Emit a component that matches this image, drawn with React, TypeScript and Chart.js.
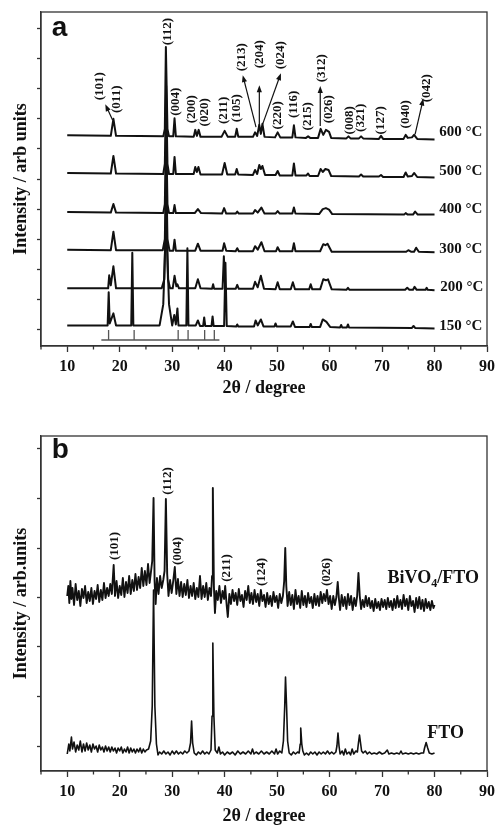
import React, { useEffect, useRef } from 'react';
import { Chart, registerables } from 'chart.js';
Chart.register(...registerables);

const SERIF = '"Liberation Serif", "Times New Roman", serif';
const SANS = '"Liberation Sans", Arial, sans-serif';
const INK = '#111';
const AXIS = '#333';

// ---------- shared x axis ----------
const X_TICKS = [10, 20, 30, 40, 50, 60, 70, 80, 90];
const X_MINOR = [5, 15, 25, 35, 45, 55, 65, 75, 85];

// ---------- panel a : [2theta, intensity] ----------
const A_Y_TICKS = [0, 30, 60, 90, 120, 150, 180, 210, 240, 270, 300];

const T600 = [
  [10, 193.5], [18.3, 193], [18.8, 210], [19.3, 193], [28.3, 192.5], [28.6, 200], [28.8, 281.5], [29.1, 200], [29.4, 192.5],
  [30.2, 192.5], [30.45, 210.5], [30.7, 192.5], [34.1, 192], [34.4, 199], [34.7, 193], [35.05, 199], [35.4, 192],
  [39.4, 192], [40.0, 198], [40.6, 192], [42.0, 192], [42.3, 200], [42.6, 192], [45.4, 192], [45.8, 196.5], [46.2, 193],
  [46.6, 204], [46.9, 195], [47.2, 205], [47.6, 192], [49.6, 191.5], [50.1, 196.5], [50.6, 191.5], [52.9, 191.5],
  [53.2, 203.5], [53.5, 191.5], [55.5, 191], [55.9, 192.5], [56.3, 191], [57.8, 191], [58.3, 200], [58.8, 194],
  [59.3, 199], [59.9, 197], [60.3, 191], [63.2, 190.5], [63.6, 192.5], [64.0, 190.5], [65.6, 190.5], [66.0, 192.5],
  [66.4, 190.5], [69.4, 190], [69.8, 193], [70.2, 190], [74.1, 190], [74.5, 194], [74.9, 191], [75.7, 191.5],
  [76.1, 194], [76.7, 190], [80, 189.5],
];
const T500 = [
  [10, 156], [18.3, 155.5], [18.8, 173], [19.3, 155.5], [28.3, 155], [28.6, 165], [28.85, 243], [29.1, 165], [29.4, 155],
  [30.2, 155], [30.45, 172], [30.7, 155], [34.1, 155], [34.4, 162], [34.7, 157], [35.0, 162], [35.4, 154.5],
  [39.5, 154.5], [40.0, 166], [40.5, 154.5], [42.0, 154.5], [42.3, 160], [42.6, 154.5], [45.4, 154], [45.8, 159],
  [46.2, 155], [46.6, 164], [46.9, 160], [47.2, 163], [47.7, 154], [49.7, 154], [50.1, 158], [50.5, 153.5],
  [52.9, 153.5], [53.2, 165.5], [53.5, 153.5], [55.6, 153.5], [55.9, 155.5], [56.2, 153], [57.8, 153], [58.3, 160],
  [58.7, 157], [59.2, 160], [59.8, 159], [60.3, 153], [65.6, 152.5], [66.0, 154.5], [66.4, 152.5], [69.4, 152.5],
  [69.8, 154], [70.2, 152], [74.1, 152], [74.5, 156.5], [74.9, 152.5], [75.7, 153], [76.1, 156], [76.7, 152], [80, 151.5],
];
const T400 = [
  [10, 117], [18.3, 116.5], [18.8, 125], [19.3, 116.5], [28.3, 116], [28.6, 125], [28.85, 205], [29.1, 125], [29.4, 116],
  [30.2, 116], [30.45, 124], [30.7, 116], [34.3, 116], [34.9, 120], [35.5, 116], [39.5, 115.5], [39.9, 121],
  [40.3, 115.5], [42.1, 115.5], [42.4, 117.5], [42.7, 115.5], [45.4, 115.5], [45.8, 119], [46.3, 116.5], [47.0, 121.5],
  [47.6, 115.5], [49.7, 115.5], [50.1, 118], [50.5, 115.5], [52.9, 115.5], [53.2, 121.5], [53.5, 115.5], [58.0, 115],
  [58.7, 120], [59.3, 121], [59.9, 119.5], [60.5, 115], [74.2, 114.5], [74.5, 116], [74.9, 114.5], [75.9, 114.5],
  [76.3, 117.5], [76.8, 114.5], [80, 114.5],
];
const T300 = [
  [10, 79.5], [18.3, 79], [18.8, 97.5], [19.3, 79], [28.2, 79], [28.6, 90], [28.85, 168], [29.1, 90], [29.5, 78.5],
  [30.2, 78.5], [30.45, 89.5], [30.7, 78.5], [34.4, 78.5], [34.9, 85.5], [35.4, 78.5], [39.6, 78.5], [39.9, 86],
  [40.3, 78.5], [42.1, 78], [42.4, 81], [42.7, 78], [45.4, 78], [45.8, 83], [46.3, 79.5], [47.0, 87], [47.6, 78],
  [49.8, 78], [50.1, 82], [50.5, 78], [52.9, 78], [53.2, 86], [53.5, 78], [58.2, 78], [58.8, 85], [59.2, 84],
  [59.6, 85.5], [60.4, 77.5], [74.6, 77.5], [75.0, 79], [75.5, 77.5], [76.1, 77.5], [76.5, 81.5], [77.0, 77.5], [80, 77],
];
const T200 = [
  [10, 41], [17.8, 41], [18.0, 54], [18.3, 44], [18.8, 63], [19.3, 41], [28.0, 41], [28.5, 50], [28.85, 130], [29.2, 50],
  [29.6, 41], [30.1, 41], [30.45, 53.5], [30.8, 43], [31.0, 45], [31.3, 41], [34.4, 41], [34.9, 50], [35.4, 41],
  [37.6, 40.5], [37.8, 45], [38.0, 40.5], [39.6, 40.5], [39.85, 73], [40.1, 40.5], [42.1, 40.5], [42.4, 44.5],
  [42.7, 40.5], [45.4, 40.5], [45.8, 47.5], [46.3, 42], [46.9, 53.5], [47.5, 40.5], [49.7, 40], [50.1, 47], [50.5, 40],
  [52.6, 40], [53.0, 47], [53.4, 40], [56.1, 40], [56.4, 45], [56.7, 40], [58.2, 40], [58.8, 50], [59.3, 49],
  [59.7, 50], [60.4, 40], [63.2, 39.5], [63.5, 41.5], [63.8, 39.5], [74.4, 39.5], [74.8, 41.5], [75.2, 39.5],
  [75.9, 39.5], [76.2, 42.5], [76.6, 39.5], [78.3, 39.5], [78.5, 41.5], [78.7, 39.5], [80, 39],
];
const T150 = [
  [10, 4], [17.7, 4], [17.9, 37], [18.1, 6], [18.8, 16], [19.3, 4], [22.2, 4], [22.4, 76.5], [22.6, 4], [27.6, 4],
  [28.3, 25], [28.85, 110], [29.4, 25], [30.0, 4], [30.4, 14.5], [30.7, 5], [31.0, 21], [31.2, 4], [32.7, 4],
  [32.9, 81], [33.1, 4], [34.5, 4], [34.9, 9], [35.3, 3.5], [35.9, 3.5], [36.1, 12], [36.3, 3.5], [37.5, 3.5],
  [37.7, 13], [37.9, 3.5], [39.9, 3.5], [40.15, 66.5], [40.4, 3.5], [42.2, 3], [42.4, 5], [42.6, 3], [45.6, 3],
  [45.9, 9], [46.3, 4], [46.9, 10], [47.4, 3], [49.5, 3], [49.7, 6], [49.9, 3], [52.6, 3], [53.0, 8], [53.4, 2.5],
  [56.2, 2.5], [56.4, 5.5], [56.6, 2.5], [58.2, 2.5], [58.7, 10], [59.4, 7.5], [60.1, 2.5], [62.0, 2], [62.2, 4.5],
  [62.4, 2], [63.3, 2], [63.5, 5], [63.7, 2], [75.7, 1.5], [76.0, 3.5], [76.3, 1.5], [80, 1],
];
const A_TRACES = [T600, T500, T400, T300, T200, T150];

// reference stick pattern
const STICK_POS = [17.88, 22.75, 31.14, 33.03, 36.19, 38.03];
const STICK_BASE = -10.5;
const STICK_TOP = -0.5;
const STICK_RANGE = [16.5, 39.0];

const A_TEMP_TEXT = ['600 °C', '500 °C', '400 °C', '300 °C', '200 °C', '150 °C'];
const A_TEMP_POS = [[80.9, 196.5], [80.9, 157.5], [80.9, 119.5], [80.9, 80.5], [81.1, 42.5], [80.9, 3.5]];

const A_HKL: [string, number, number][] = [
  ['(101)', 16.25, 242.5], ['(011)', 19.39, 229.5], ['(112)', 29.05, 297], ['(004)', 30.64, 227],
  ['(200)', 33.79, 219.5], ['(020)', 36.14, 216.5], ['(211)', 39.79, 218.5], ['(105)', 42.31, 220.5],
  ['(213)', 43.26, 271.5], ['(204)', 46.61, 274.5], ['(024)', 50.72, 273.5], ['(220)', 50.08, 213.5],
  ['(116)', 53.24, 224.5], ['(215)', 55.89, 212.5], ['(312)', 58.41, 260.5], ['(026)', 59.87, 219.5],
  ['(008)', 63.79, 208.5], ['(321)', 65.98, 211], ['(127)', 69.77, 208.5], ['(040)', 74.51, 214.5],
  ['(042)', 78.43, 240.5],
];
// tail (x,y) -> head (x,y)
const A_ARROWS = [
  [18.64, 208.8, 17.25, 224.5],
  [45.98, 201.8, 43.45, 253.5],
  [46.61, 202.5, 46.61, 243.5],
  [47.23, 204.5, 50.72, 255.5],
  [58.22, 202.8, 58.22, 242.8],
  [76.29, 194.5, 77.86, 230.2],
];

// ---------- panel b ----------
const B_Y_TICKS = [0, 49.5, 99, 148.5, 198, 247.5, 297];

const BIVO4_FTO = [
  [10.0, 150], [10.2, 160], [10.4, 143], [10.6, 165], [10.8, 147], [11.0, 158], [11.3, 141], [11.6, 162], [11.9, 146],
  [12.2, 155], [12.5, 140], [12.8, 157], [13.1, 148], [13.4, 160], [13.7, 143], [14.0, 154], [14.3, 145], [14.6, 158],
  [14.9, 142], [15.2, 155], [15.5, 147], [15.8, 161], [16.1, 144], [16.4, 156], [16.7, 146], [17.0, 163], [17.3, 148],
  [17.6, 158], [17.9, 150], [18.2, 162], [18.5, 152], [18.85, 181], [19.1, 150], [19.4, 165], [19.7, 148], [20.0, 160],
  [20.3, 151], [20.6, 168], [20.9, 149], [21.2, 164], [21.5, 153], [21.8, 170], [22.1, 152], [22.4, 166], [22.7, 155],
  [23.0, 172], [23.3, 156], [23.6, 169], [23.9, 158], [24.2, 178], [24.5, 160], [24.8, 175], [25.1, 161], [25.4, 182],
  [25.7, 163], [26.0, 176], [26.2, 185], [26.45, 248], [26.65, 165], [26.85, 142], [27.1, 168], [27.4, 152],
  [27.7, 170], [28.0, 158], [28.3, 166], [28.55, 175], [28.8, 247], [29.05, 172], [29.3, 150], [29.6, 166],
  [29.9, 153], [30.2, 165], [30.5, 179], [30.8, 152], [31.1, 167], [31.4, 150], [31.7, 164], [32.0, 149], [32.3, 162],
  [32.6, 151], [32.9, 166], [33.2, 148], [33.5, 160], [33.8, 150], [34.1, 163], [34.4, 147], [34.7, 158], [35.0, 149],
  [35.3, 170], [35.6, 147], [35.9, 160], [36.2, 149], [36.5, 163], [36.8, 146], [37.1, 158], [37.4, 150], [37.6, 170],
  [37.75, 258], [37.95, 160], [38.15, 133], [38.4, 155], [38.7, 146], [39.0, 160], [39.3, 143], [39.6, 155],
  [39.9, 147], [40.1, 160], [40.4, 140], [40.6, 129], [40.9, 152], [41.2, 142], [41.5, 156], [41.8, 145], [42.1, 153],
  [42.4, 141], [42.7, 157], [43.0, 145], [43.3, 151], [43.6, 139], [43.9, 155], [44.2, 146], [44.5, 160], [44.8, 143],
  [45.1, 153], [45.4, 142], [45.7, 156], [46.0, 144], [46.3, 152], [46.6, 140], [46.9, 156], [47.2, 145], [47.5, 151],
  [47.8, 139], [48.1, 153], [48.4, 142], [48.7, 150], [49.0, 140], [49.3, 154], [49.6, 144], [49.9, 150], [50.2, 138],
  [50.5, 152], [50.8, 143], [51.1, 150], [51.35, 165], [51.55, 198], [51.75, 160], [52.0, 140], [52.3, 154],
  [52.6, 141], [52.9, 151], [53.2, 137], [53.5, 156], [53.8, 142], [54.1, 150], [54.4, 138], [54.7, 155], [55.0, 141],
  [55.3, 150], [55.6, 139], [55.9, 153], [56.2, 143], [56.5, 149], [56.8, 138], [57.1, 152], [57.4, 141], [57.7, 150],
  [58.0, 140], [58.3, 154], [58.6, 143], [58.9, 152], [59.2, 145], [59.5, 156], [59.8, 142], [60.1, 150], [60.4, 137],
  [60.7, 150], [61.0, 141], [61.3, 149], [61.55, 164], [61.8, 146], [62.0, 136], [62.3, 151], [62.6, 140], [62.9, 149],
  [63.2, 137], [63.5, 152], [63.8, 141], [64.1, 150], [64.4, 136], [64.7, 148], [65.0, 140], [65.25, 150], [65.5, 173],
  [65.75, 150], [66.0, 137], [66.3, 146], [66.6, 139], [66.9, 150], [67.2, 140], [67.5, 148], [67.8, 138], [68.1, 145],
  [68.4, 135], [68.7, 147], [69.0, 138], [69.3, 144], [69.6, 136], [69.9, 147], [70.2, 139], [70.5, 146], [70.8, 137],
  [71.1, 148], [71.4, 139], [71.7, 145], [72.0, 136], [72.3, 147], [72.6, 138], [72.9, 150], [73.2, 139], [73.5, 146],
  [73.8, 137], [74.1, 151], [74.4, 140], [74.7, 147], [75.0, 136], [75.3, 150], [75.6, 140], [75.9, 145], [76.2, 134],
  [76.5, 148], [76.8, 138], [77.1, 149], [77.4, 137], [77.7, 146], [78.0, 135], [78.3, 147], [78.6, 138], [78.9, 144],
  [79.2, 136], [79.5, 145], [79.8, 138], [80.0, 141],
];
const FTO = [
  [10.0, -8], [10.3, 2], [10.5, -5], [10.8, 9], [11.0, -3], [11.3, 4], [11.6, -6], [11.9, 1], [12.2, -4], [12.5, 5],
  [12.8, -6], [13.1, 2], [13.4, -5], [13.7, 3], [14.0, -4], [14.3, 1], [14.6, -6], [14.9, 2], [15.2, -3], [15.5, 0],
  [15.8, -6], [16.1, 1], [16.4, -4], [16.7, -1], [17.0, -6], [17.3, 0], [17.6, -5], [17.9, -1], [18.2, -6], [18.5, -1],
  [18.8, -5], [19.1, -2], [19.4, -7], [19.7, -2], [20.0, -5], [20.3, -1], [20.6, -7], [20.9, -3], [21.2, -6],
  [21.5, -1], [21.8, -7], [22.1, -2], [22.4, -6], [22.7, -3], [23.0, -7], [23.3, -3], [23.6, -6], [23.9, -2],
  [24.2, -7], [24.5, -3], [24.8, -6], [25.1, -4], [25.5, -3], [25.9, 5], [26.2, 40], [26.45, 156], [26.7, 40],
  [27.0, 2], [27.3, -9], [27.6, -6], [28.0, -8], [28.4, -5], [28.8, -8], [29.2, -6], [29.6, -9], [30.0, -5],
  [30.4, -8], [30.8, -5], [31.2, -8], [31.6, -6], [32.0, -8], [32.4, -5], [32.8, -7], [33.2, -5], [33.5, 3],
  [33.7, 25], [33.9, 3], [34.2, -7], [34.6, -9], [35.0, -6], [35.4, -8], [35.8, -5], [36.2, -8], [36.6, -6],
  [37.0, -8], [37.4, -4], [37.6, 30], [37.75, 103], [37.95, 30], [38.2, -4], [38.6, -7], [38.9, -1], [39.2, -8],
  [39.6, -6], [40.0, -9], [40.5, -6], [41.0, -8], [41.5, -6], [42.0, -9], [42.5, -5], [43.0, -8], [43.5, -6],
  [44.0, -8], [44.5, -5], [45.0, -8], [45.3, -3], [45.6, -8], [46.0, -6], [46.5, -8], [47.0, -5], [47.5, -8],
  [48.0, -6], [48.5, -8], [49.0, -5], [49.5, -8], [49.8, -3], [50.1, -8], [50.5, -5], [50.9, -7], [51.2, 5],
  [51.45, 40], [51.6, 69], [51.8, 40], [52.0, 5], [52.3, -7], [52.7, -9], [53.1, -6], [53.5, -8], [53.9, -6],
  [54.2, -7], [54.4, 2], [54.5, 18], [54.7, 2], [54.9, -5], [55.2, -9], [55.6, -7], [56.0, -9], [56.4, -6],
  [56.8, -8], [57.2, -6], [57.6, -9], [58.0, -6], [58.4, -8], [58.8, -6], [59.2, -8], [59.6, -5], [60.0, -8],
  [60.4, -6], [60.8, -8], [61.2, -6], [61.4, 0], [61.6, 13], [61.8, 0], [62.0, -8], [62.4, -5], [62.7, -9],
  [63.0, -3], [63.3, -8], [63.7, -6], [64.0, -9], [64.3, -3], [64.6, -8], [65.0, -5], [65.3, -6], [65.5, 3],
  [65.7, 11], [65.9, 3], [66.1, -5], [66.4, -7], [66.8, -5], [67.2, -8], [67.6, -6], [68.0, -8], [68.5, -7],
  [69.0, -8], [69.5, -6], [70.0, -8], [70.5, -7], [71.0, -4], [71.3, -8], [71.8, -7], [72.3, -8], [72.8, -7],
  [73.3, -8], [73.6, -5], [73.9, -8], [74.5, -7], [75.0, -8], [75.5, -7], [76.0, -8], [76.5, -7], [77.0, -8],
  [77.5, -7], [77.9, -7], [78.1, -2], [78.4, 3.5], [78.7, -2], [79.0, -7], [79.5, -8], [80.0, -7],
];

const B_HKL: [string, number, number][] = [
  ['(101)', 18.96, 200], ['(112)', 29.05, 265], ['(004)', 30.95, 195],
  ['(211)', 40.3, 178], ['(124)', 47.05, 174], ['(026)', 59.36, 174],
];
const B_SAMPLE_POS = [[71.05, 168], [78.62, 13]];

// ---------- helpers ----------
const toXY = (arr: number[][]) => arr.map(([x, y]) => ({ x, y }));

function stickData() {
  const pts: { x: number; y: number | null }[] = [
    { x: STICK_RANGE[0], y: STICK_BASE }, { x: STICK_RANGE[1], y: STICK_BASE }, { x: STICK_RANGE[1], y: null },
  ];
  for (const p of STICK_POS) {
    pts.push({ x: p, y: STICK_BASE }, { x: p, y: STICK_TOP }, { x: p, y: null });
  }
  return pts;
}

function drawArrow(ctx: CanvasRenderingContext2D, x1: number, y1: number, x2: number, y2: number) {
  const ang = Math.atan2(y2 - y1, x2 - x1);
  const len = 7, hw = 2.6;
  ctx.beginPath();
  ctx.moveTo(x1, y1);
  ctx.lineTo(x2 - Math.cos(ang) * len * 0.8, y2 - Math.sin(ang) * len * 0.8);
  ctx.stroke();
  ctx.beginPath();
  ctx.moveTo(x2, y2);
  ctx.lineTo(x2 - Math.cos(ang) * len - Math.sin(ang) * hw, y2 - Math.sin(ang) * len + Math.cos(ang) * hw);
  ctx.lineTo(x2 - Math.cos(ang) * len + Math.sin(ang) * hw, y2 - Math.sin(ang) * len - Math.cos(ang) * hw);
  ctx.closePath();
  ctx.fill();
}

function decoPlugin(panel: 'a' | 'b') {
  return {
    id: 'deco' + panel,
    afterDatasetsDraw(chart: any) {
      const { ctx, chartArea: ca } = chart;
      const xs = chart.scales.x, ys = chart.scales.y;
      const px = (v: number) => xs.getPixelForValue(v);
      const py = (v: number) => ys.getPixelForValue(v);
      ctx.save();
      // frame
      ctx.strokeStyle = AXIS;
      ctx.lineWidth = 1.3;
      ctx.strokeRect(ca.left, ca.top, ca.right - ca.left, ca.bottom - ca.top);
      // minor x ticks
      ctx.beginPath();
      for (const v of X_MINOR) {
        const x = px(v);
        ctx.moveTo(x, ca.bottom);
        ctx.lineTo(x, ca.bottom + 3.5);
      }
      ctx.stroke();
      ctx.fillStyle = INK;
      ctx.strokeStyle = INK;
      // hkl labels
      const hkl = panel === 'a' ? A_HKL : B_HKL;
      ctx.font = `bold 13px ${SERIF}`;
      ctx.textAlign = 'center';
      ctx.textBaseline = 'middle';
      for (const [t, x, y] of hkl) {
        ctx.save();
        ctx.translate(px(x), py(y));
        ctx.rotate(-Math.PI / 2);
        ctx.fillText(t, 0, 0);
        ctx.restore();
      }
      ctx.textAlign = 'left';
      if (panel === 'a') {
        ctx.lineWidth = 1.2;
        for (const [x1, y1, x2, y2] of A_ARROWS) drawArrow(ctx, px(x1), py(y1), px(x2), py(y2));
        ctx.font = `bold 15px ${SERIF}`;
        A_TEMP_TEXT.forEach((t, i) => ctx.fillText(t, px(A_TEMP_POS[i][0]), py(A_TEMP_POS[i][1])));
        ctx.font = `bold 28px ${SANS}`;
        ctx.textBaseline = 'alphabetic';
        ctx.fillText('a', px(7.03), py(292.5));
      } else {
        ctx.font = `bold 18px ${SERIF}`;
        const [bx, by] = B_SAMPLE_POS[0];
        let x = px(bx);
        const y = py(by);
        ctx.fillText('BiVO', x, y);
        x += ctx.measureText('BiVO').width;
        ctx.font = `bold 12px ${SERIF}`;
        ctx.fillText('4', x, y + 6);
        x += ctx.measureText('4').width;
        ctx.font = `bold 18px ${SERIF}`;
        ctx.fillText('/FTO', x, y);
        ctx.fillText('FTO', px(B_SAMPLE_POS[1][0]), py(B_SAMPLE_POS[1][1]));
        ctx.font = `bold 28px ${SANS}`;
        ctx.textBaseline = 'alphabetic';
        ctx.fillText('b', px(7.03), py(288));
      }
      ctx.restore();
    },
  };
}

function xScale(axisHeight: number, titlePad: number) {
  return {
    type: 'linear',
    min: 5,
    max: 90,
    afterBuildTicks: (s: any) => { s.ticks = X_TICKS.map((v) => ({ value: v })); },
    afterFit: (s: any) => { s.height = axisHeight; },
    ticks: { autoSkip: false, maxRotation: 0, padding: 5, color: INK, font: { family: SERIF, size: 16, weight: 'bold' } },
    grid: { drawOnChartArea: false, drawTicks: true, tickLength: 6, tickColor: AXIS, tickWidth: 1.3 },
    border: { display: true, color: AXIS, width: 1.3 },
    title: {
      display: true, text: '2θ / degree', color: INK,
      font: { family: SERIF, size: 18, weight: 'bold' }, padding: { top: 0, bottom: titlePad },
    },
  };
}

function yScale(min: number, max: number, ticks: number[], title: string) {
  return {
    type: 'linear',
    min, max,
    afterBuildTicks: (s: any) => { s.ticks = ticks.map((v) => ({ value: v })); },
    afterFit: (s: any) => { s.width = 41; },
    ticks: { display: false },
    grid: { drawOnChartArea: false, drawTicks: true, tickLength: 4, tickColor: AXIS, tickWidth: 1.3 },
    border: { display: true, color: AXIS, width: 1.3 },
    title: {
      display: true, text: title, color: INK,
      font: { family: SERIF, size: 18, weight: 'bold' }, padding: { top: 11, bottom: 0 },
    },
  };
}

const lineDs = (data: any[], width: number, color = INK) => ({
  data, showLine: true, borderColor: color, borderWidth: width, pointRadius: 0,
  borderJoinStyle: 'round', tension: 0, spanGaps: false, fill: false,
});

export default function App() {
  const refA = useRef<HTMLCanvasElement>(null);
  const refB = useRef<HTMLCanvasElement>(null);

  useEffect(() => {
    const common = {
      responsive: false, animation: false, devicePixelRatio: 1,
      plugins: { legend: { display: false }, tooltip: { enabled: false } },
      events: [],
    };
    const a = new Chart(refA.current as HTMLCanvasElement, {
      type: 'scatter',
      data: {
        datasets: [
          ...A_TRACES.map((t) => lineDs(toXY(t), 2)),
          lineDs(stickData(), 1.3, '#555'),
        ],
      },
      options: {
        ...common,
        layout: { padding: { top: 12, right: 10, left: 0, bottom: 0 } },
        scales: {
          x: xScale(54, 1.2),
          y: yScale(-16.5, 316.5, A_Y_TICKS, 'Intensity / arb units'),
        },
      } as any,
      plugins: [decoPlugin('a')],
    } as any);
    const b = new Chart(refB.current as HTMLCanvasElement, {
      type: 'scatter',
      data: {
        datasets: [lineDs(toXY(FTO), 1.6), lineDs(toXY(BIVO4_FTO), 1.9)],
      },
      options: {
        ...common,
        layout: { padding: { top: 16, right: 10, left: 0, bottom: 0 } },
        scales: {
          x: xScale(56, 0),
          y: yScale(-25, 310, B_Y_TICKS, 'Intensity / arb.units'),
        },
      } as any,
      plugins: [decoPlugin('b')],
    } as any);
    return () => { a.destroy(); b.destroy(); };
  }, []);

  return (
    <div style={{ position: 'absolute', left: 0, top: 0, width: 500, height: 827, background: '#fff' }}>
      <canvas ref={refA} width={500} height={400} style={{ position: 'absolute', left: 0, top: 0 }} />
      <canvas ref={refB} width={500} height={407} style={{ position: 'absolute', left: 0, top: 420 }} />
    </div>
  );
}
